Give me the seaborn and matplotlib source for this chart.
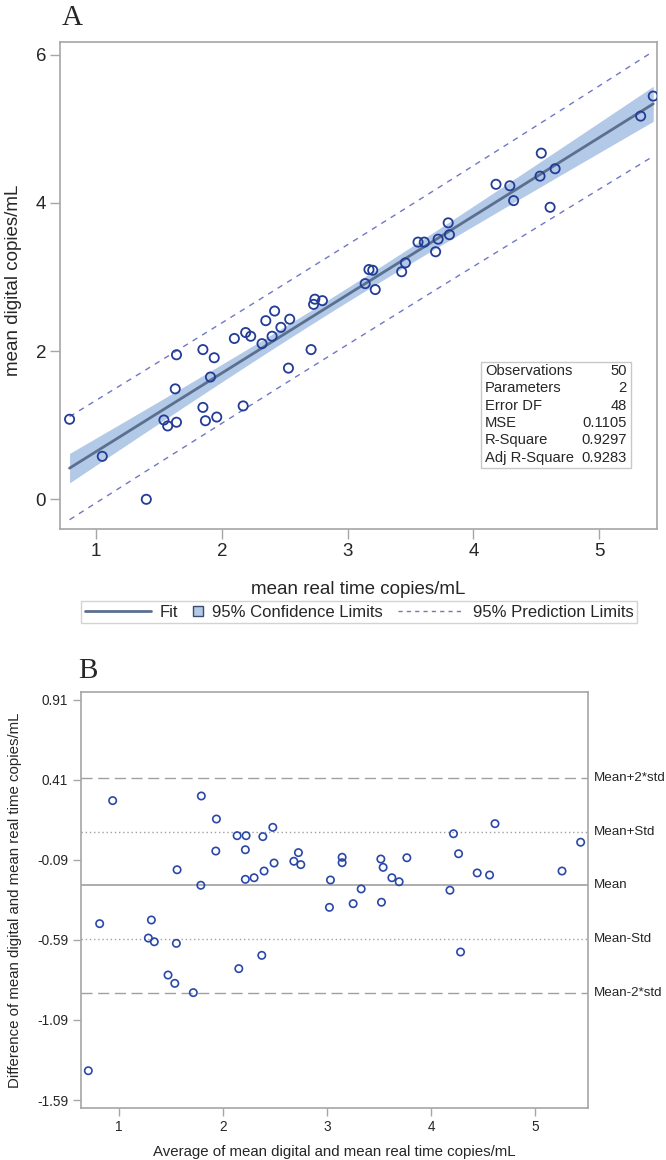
import numpy as np
import pandas as pd
import matplotlib
matplotlib.use('Agg')
import matplotlib.pyplot as plt
import matplotlib.transforms as mtransforms
import seaborn as sns
from matplotlib.legend_handler import HandlerBase
from matplotlib.patches import Rectangle
from matplotlib.lines import Line2D

# panel A: regression of digital vs real time
real_time = [0.79, 1.05, 1.40, 1.54, 1.57, 1.64, 1.63, 1.64, 1.85, 1.85,
             1.87, 1.91, 1.94, 1.96, 2.10, 2.17, 2.19, 2.23, 2.32, 2.35,
             2.40, 2.42, 2.47, 2.53, 2.54, 2.71, 2.73, 2.74, 2.80, 3.14,
             3.17, 3.20, 3.22, 3.43, 3.46, 3.56, 3.61, 3.70, 3.72, 3.81,
             3.80, 4.18, 4.29, 4.32, 4.53, 4.54, 4.65, 4.61, 5.33, 5.43]
digital = [1.08, 0.58, 0.00, 1.07, 0.99, 1.04, 1.49, 1.95, 2.02, 1.24,
           1.06, 1.65, 1.91, 1.11, 2.17, 1.26, 2.25, 2.20, 2.10, 2.41,
           2.20, 2.54, 2.32, 1.77, 2.43, 2.02, 2.63, 2.70, 2.68, 2.91,
           3.10, 3.09, 2.83, 3.07, 3.19, 3.47, 3.47, 3.34, 3.51, 3.57,
           3.73, 4.25, 4.23, 4.03, 4.36, 4.67, 4.46, 3.94, 5.17, 5.44]

stat_names = ['Observations', 'Parameters', 'Error DF', 'MSE', 'R-Square', 'Adj R-Square']
stat_values = ['50', '2', '48', '0.1105', '0.9297', '0.9283']

# panel B: Bland-Altman
ba_avg = [0.939, 1.791, 1.936, 1.558, 1.786, 1.930, 2.135, 2.221, 2.214, 2.382,
          2.478, 2.214, 2.298, 2.394, 2.490, 2.680, 2.724, 2.747, 3.144, 3.144,
          3.032, 3.022, 3.250, 3.327, 3.516, 3.538, 3.522, 3.622, 3.692, 3.766,
          4.180, 4.214, 4.263, 4.442, 4.561, 4.613, 5.257, 5.436, 0.814, 0.705,
          1.311, 1.282, 1.339, 1.551, 1.471, 1.536, 1.714, 2.151, 2.372, 4.282]
ba_diff = [0.281, 0.310, 0.166, -0.151, -0.248, -0.034, 0.062, 0.062, -0.026, 0.056,
           0.114, -0.211, -0.201, -0.159, -0.109, -0.098, -0.044, -0.119, -0.073, -0.107,
           -0.215, -0.386, -0.363, -0.271, -0.084, -0.136, -0.354, -0.201, -0.226, -0.076,
           -0.279, 0.074, -0.051, -0.171, -0.184, 0.137, -0.159, 0.021, -0.488, -1.407,
           -0.465, -0.578, -0.601, -0.611, -0.809, -0.861, -0.919, -0.769, -0.686, -0.665]

ba_mean = -0.248
ba_std = 0.336
ba_line_names = ['Mean+2*std', 'Mean+Std', 'Mean', 'Mean-Std', 'Mean-2*std']
ba_line_k = [2, 1, 0, -1, -2]
ba_yticks = [0.91, 0.41, -0.09, -0.59, -1.09, -1.59]


class SquareHandler(HandlerBase):
    def legend_artist(self, legend, orig_handle, fontsize, handlebox):
        s = 0.62 * fontsize
        handlebox.width = s
        r = Rectangle((0, (handlebox.height - s) / 2), s, s,
                      facecolor=orig_handle.get_facecolor(),
                      edgecolor=orig_handle.get_edgecolor(), lw=1.0,
                      transform=handlebox.get_transform())
        handlebox.add_artist(r)
        return r


sns.set_style('white')
plt.rcParams['font.family'] = ['Liberation Sans', 'DejaVu Sans']

gray = '#a6a6a6'
pt_col = '#233c96'

fig = plt.figure(figsize=(6.66, 11.6), dpi=100)
ax1 = fig.add_axes([0.0901, 0.5440, 0.8964, 0.4198])
ax2 = fig.add_axes([0.1212, 0.0451, 0.7622, 0.3581])

# ---- panel A ----
df = pd.DataFrame({'real': real_time, 'digital': digital})
x = df['real'].values
y = df['digital'].values
n = len(x)
b1, b0 = np.polyfit(x, y, 1)
mse = ((y - (b0 + b1 * x)) ** 2).sum() / (n - 2)
sxx = ((x - x.mean()) ** 2).sum()
tval = 2.0106
xs = np.linspace(x.min(), x.max(), 200)
fit = b0 + b1 * xs
se_m = np.sqrt(mse * (1 / n + (xs - x.mean()) ** 2 / sxx))
se_p = np.sqrt(mse * (1 + 1 / n + (xs - x.mean()) ** 2 / sxx))

ax1.fill_between(xs, fit - tval * se_m, fit + tval * se_m, color='#b3c9e8', lw=0, zorder=1)
ax1.plot(xs, fit + tval * se_p, color='#7078c4', lw=1.0, ls=(0, (4, 4)), zorder=2)
ax1.plot(xs, fit - tval * se_p, color='#7078c4', lw=1.0, ls=(0, (4, 4)), zorder=2)
ax1.plot(xs, fit, color='#5b6f8e', lw=2.0, zorder=3)
sns.scatterplot(data=df, x='real', y='digital', ax=ax1, marker='o', s=44,
                facecolor='none', edgecolor=pt_col, linewidth=1.3, zorder=4)

ax1.set_xlim(0.714, 5.46)
ax1.set_ylim(-0.40, 6.17)
ax1.set_xticks([1, 2, 3, 4, 5])
ax1.set_yticks([0, 2, 4, 6])
ax1.set_xlabel('mean real time copies/mL', fontsize=13.5, labelpad=15)
ax1.set_ylabel('mean digital copies/mL', fontsize=13.5)
ax1.yaxis.set_label_coords(-0.064, 0.51)
ax1.tick_params(axis='both', labelsize=13.5, length=7, width=1, color=gray,
                direction='out', pad=3, bottom=True, left=True)

# stats box
ax1.add_patch(Rectangle((0.7047, 0.1246), 0.2513, 0.2189, transform=ax1.transAxes,
                        facecolor='white', edgecolor='#c8c8c8', lw=1.0, zorder=5))
for i, (nm, vl) in enumerate(zip(stat_names, stat_values)):
    yy = (529 - (371 + i * 17.33)) / 487
    ax1.text(0.712, yy, nm, transform=ax1.transAxes, fontsize=10.6, va='center', ha='left', zorder=6)
    ax1.text(0.949, yy, vl, transform=ax1.transAxes, fontsize=10.6, va='center', ha='right', zorder=6)

handles = [Line2D([], [], color='#5b6f8e', lw=2.0),
           Rectangle((0, 0), 1, 1, facecolor='#b3c9e8', edgecolor='#3c4a6e'),
           Line2D([], [], color='#7078c4', lw=1.0, ls=(0, (3, 3)))]
fig.legend(handles, ['Fit', '95% Confidence Limits', '95% Prediction Limits'],
           loc='center', bbox_to_anchor=(359 / 666, 1 - 612 / 1160), ncol=3,
           fontsize=12, handlelength=4, handletextpad=0.5, columnspacing=0.9,
           borderpad=0.2, frameon=True, fancybox=False, edgecolor='#c8c8c8',
           handler_map={Rectangle: SquareHandler()})

# ---- panel B ----
dfb = pd.DataFrame({'avg': ba_avg, 'diff': ba_diff})
sns.scatterplot(data=dfb, x='avg', y='diff', ax=ax2, marker='o', s=28,
                facecolor='none', edgecolor='#2a48a8', linewidth=1.2, zorder=4)
lstyles = {2: (0, (8, 4)), 1: (0, (1, 2)), 0: '-'}
trans = mtransforms.blended_transform_factory(ax2.transAxes, ax2.transData)
for nm, k in zip(ba_line_names, ba_line_k):
    yv = ba_mean + k * ba_std
    ax2.axhline(yv, color='#a0a0a0', lw=1.2 if k == 0 else 1.0, ls=lstyles[abs(k)], zorder=2)
    ax2.text(1.011, yv, nm, transform=trans, fontsize=9.6, va='center', ha='left')

ax2.set_xlim(0.632, 5.51)
ax2.set_ylim(-1.638, 0.958)
ax2.set_xticks([1, 2, 3, 4, 5])
ax2.set_yticks(ba_yticks)
ax2.set_yticklabels(['%.2f' % v for v in ba_yticks])
ax2.set_xlabel('Average of mean digital and mean real time copies/mL', fontsize=10.8, labelpad=8)
ax2.set_ylabel('Difference of mean digital and mean real time copies/mL', fontsize=10.8)
ax2.yaxis.set_label_coords(-0.116, 0.5)
ax2.tick_params(axis='both', labelsize=9.8, length=6, width=1, color=gray,
                direction='out', pad=3, bottom=True, left=True)

for ax in (ax1, ax2):
    for sp in ax.spines.values():
        sp.set_color(gray)
        sp.set_linewidth(1.2)
    ax.grid(False)

fig.text(62 / 666, 1 - 25 / 1160, 'A', fontsize=21, family='Liberation Serif', va='baseline', ha='left')
fig.text(78 / 666, 1 - 678 / 1160, 'B', fontsize=21, family='Liberation Serif', va='baseline', ha='left')

fig.savefig('out.png', dpi=100)
